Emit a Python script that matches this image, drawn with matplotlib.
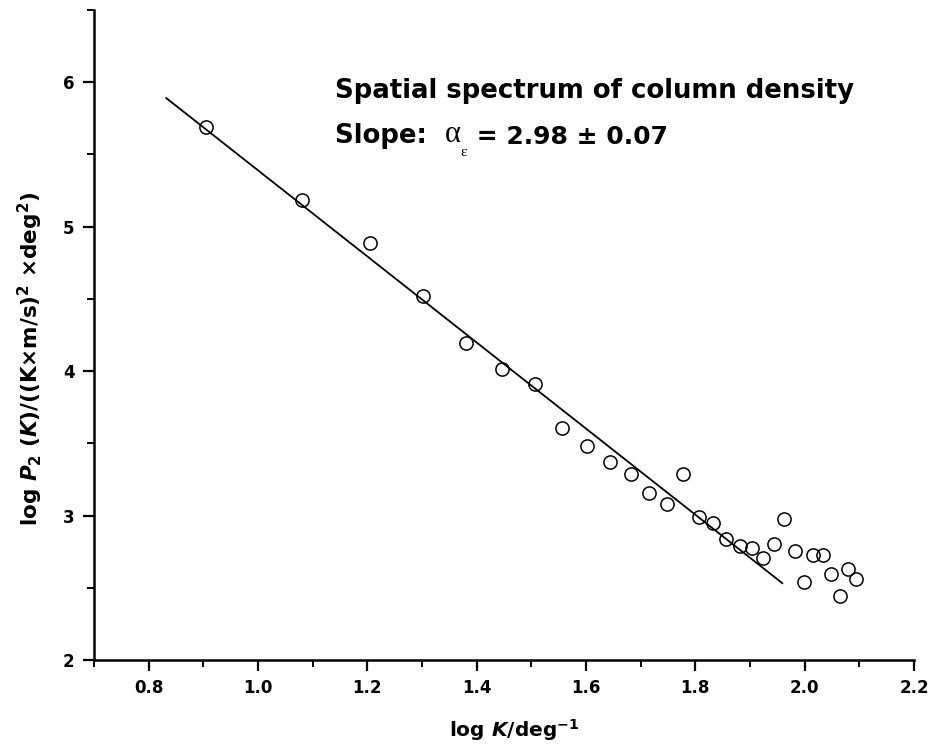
import numpy as np
import matplotlib
matplotlib.use('Agg')
import matplotlib.pyplot as plt

plt.rcParams['font.family'] = ['DejaVu Sans']
plt.rcParams['font.weight'] = 'bold'
plt.rcParams['mathtext.fontset'] = 'custom'
plt.rcParams['mathtext.rm'] = 'DejaVu Sans:bold'
plt.rcParams['mathtext.it'] = 'DejaVu Sans:italic:bold'
plt.rcParams['mathtext.bf'] = 'DejaVu Sans:bold'

# log K and log P2 for the column density spectrum
log_k = [0.905, 1.080, 1.205, 1.302, 1.380, 1.446, 1.507, 1.556, 1.602, 1.644,
         1.682, 1.716, 1.748, 1.777, 1.806, 1.833, 1.857, 1.882, 1.903, 1.924,
         1.944, 1.963, 1.982, 1.999, 2.015, 2.033, 2.049, 2.064, 2.079, 2.094]
log_p2 = [5.689, 5.185, 4.888, 4.522, 4.197, 4.017, 3.914, 3.603, 3.485, 3.368,
          3.285, 3.156, 3.083, 3.290, 2.993, 2.946, 2.838, 2.790, 2.776, 2.703,
          2.806, 2.976, 2.755, 2.539, 2.730, 2.730, 2.596, 2.444, 2.631, 2.558]

# linear fit
slope = -2.98
intercept = 8.37
fit_x = np.array([0.832, 1.959])

fig = plt.figure(figsize=(9.29, 7.48), dpi=100)
ax = fig.add_axes([94/929, 88/748, 820/929, 650/748])

ax.plot(fit_x, intercept + slope*fit_x, color='black', lw=1.3)
ax.plot(log_k, log_p2, 'o', mfc='none', mec='black', ms=9.5, mew=1.1)

ax.set_xlim(0.7, 2.2)
ax.set_ylim(2, 6.5)
ax.set_xticks([0.8, 1.0, 1.2, 1.4, 1.6, 1.8, 2.0, 2.2])
ax.set_xticks(np.arange(0.7, 2.25, 0.1), minor=True)
ax.set_yticks([2, 3, 4, 5, 6])
ax.set_yticks([2.5, 3.5, 4.5, 5.5, 6.5], minor=True)
ax.set_xticklabels(['0.8', '1.0', '1.2', '1.4', '1.6', '1.8', '2.0', '2.2'])
ax.set_yticklabels(['2', '3', '4', '5', '6'])

for s in ['top', 'right']:
    ax.spines[s].set_visible(False)
for s in ['left', 'bottom']:
    ax.spines[s].set_linewidth(1.8)
ax.tick_params(which='major', direction='out', length=8, width=1.6, labelsize=12, pad=6)
ax.tick_params(which='minor', direction='out', length=5, width=1.4)

fig.text(514/929, 1 - 737/748, r'log $K$/deg$^{-1}$', fontsize=14.5, fontweight='bold',
         ha='center', va='baseline')
fig.text(30/929, 1 - 359/748, r'log $P_2$ ($K$)/((K$\times$m/s)$^2$ $\times$deg$^2$)',
         rotation=90, ha='center', va='center', fontsize=15.5, fontweight='bold')

fig.text(335/929, 1 - 98/748, 'Spatial spectrum of column density', fontsize=18.7,
         va='baseline')
t1 = fig.text(335/929, 1 - 143/748, 'Slope:  ', fontsize=18.7, va='baseline')
t2 = ax.annotate('α', xy=(1, 0), xycoords=t1, va='bottom', fontsize=22,
                 family='Liberation Serif', fontweight='normal')
t3 = ax.annotate('ε', xy=(1, 0), xycoords=t2, xytext=(0, -7), textcoords='offset points',
                 va='bottom', fontsize=11, family='Liberation Serif', fontweight='normal')
ax.annotate(' = 2.98 ± 0.07', xy=(1, 0), xycoords=t2, xytext=(5, 0),
            textcoords='offset points', va='bottom', fontsize=18)

fig.savefig('out.png', dpi=100)
